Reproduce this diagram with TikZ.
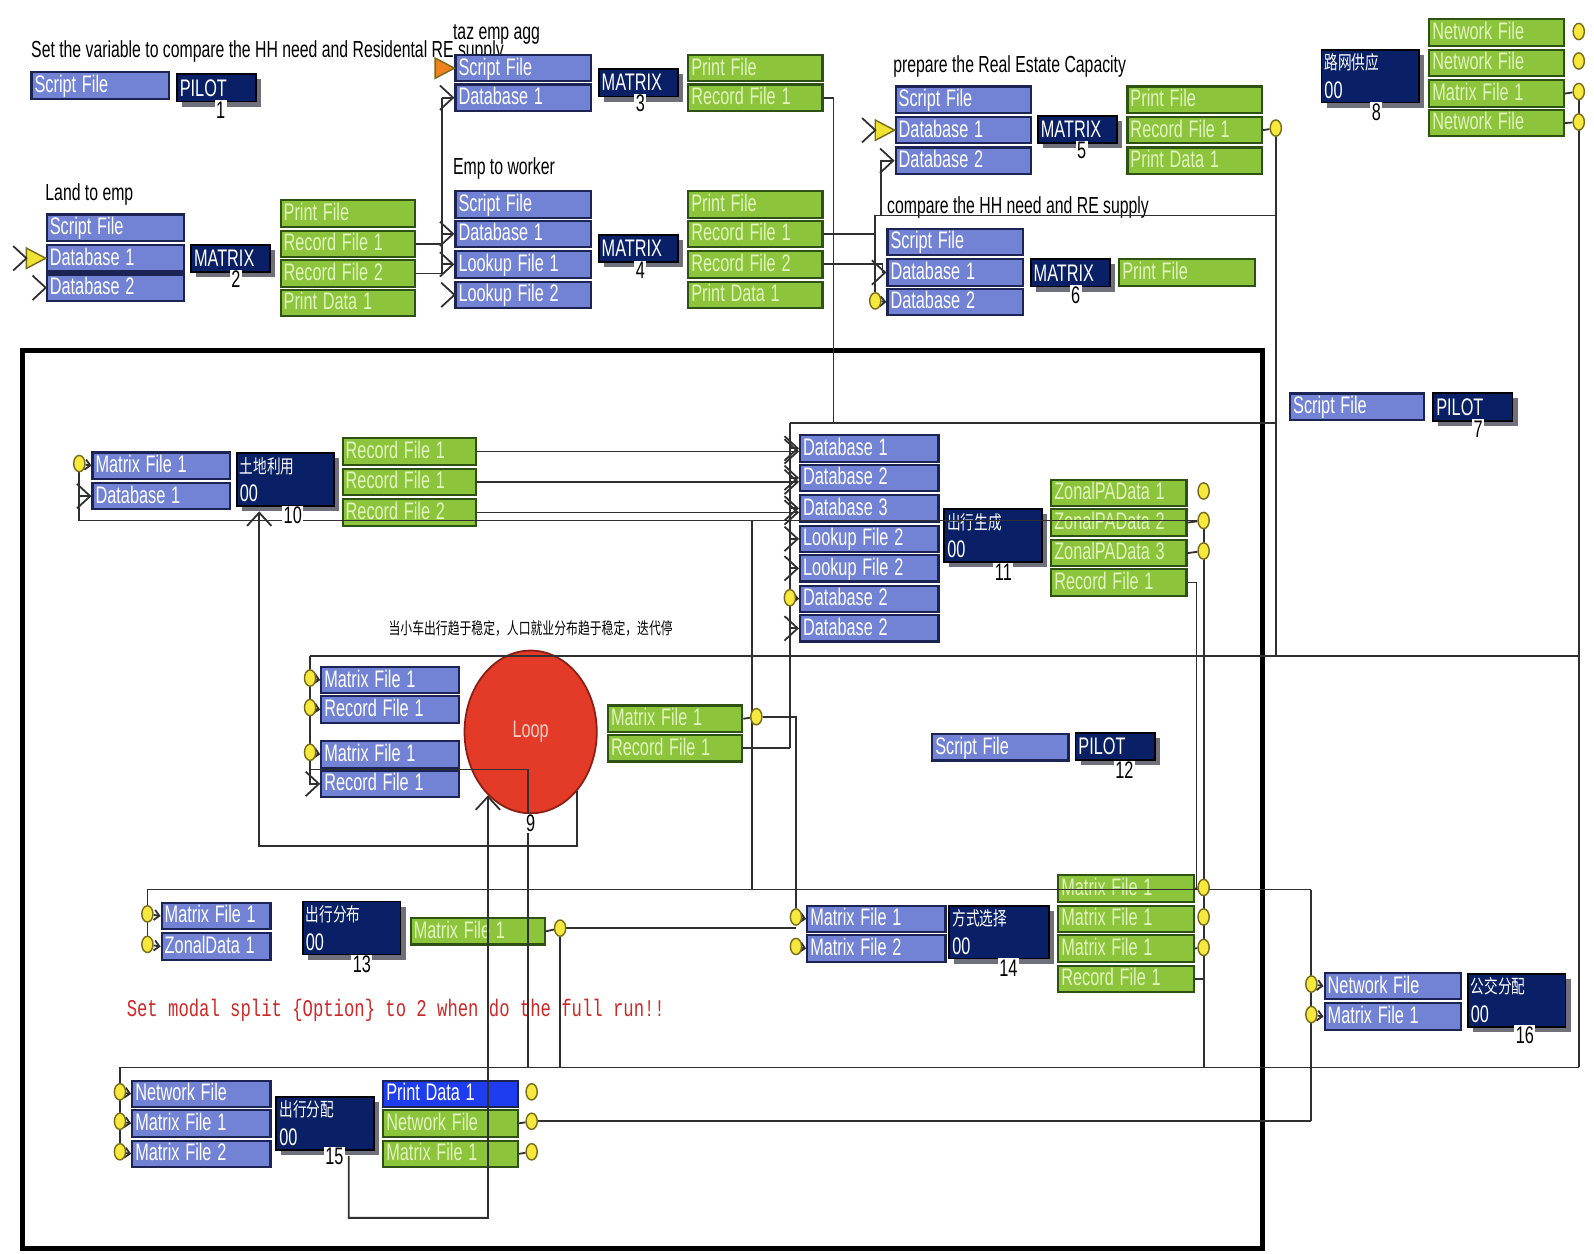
\documentclass[tikz,border=0pt]{standalone}
\usepackage{fontspec}
\setmainfont{Liberation Sans}
\newfontfamily\narrowfont[FakeStretch=0.68]{Liberation Sans}
\newfontfamily\hanzi[FakeStretch=0.72]{Noto Sans CJK SC}
\newfontfamily\typefont[FakeStretch=0.72]{Liberation Mono}
\usetikzlibrary{shapes.geometric,arrows.meta,shadows}
\pgfdeclarelayer{front}
\pgfsetlayers{main,front}

\definecolor{inblue}{RGB}{114,130,212}
\definecolor{inedge}{RGB}{28,36,84}
\definecolor{outgreen}{RGB}{140,196,60}
\definecolor{outedge}{RGB}{46,82,20}
\definecolor{outtext}{RGB}{226,244,190}
\definecolor{prognavy}{RGB}{10,32,102}
\definecolor{progshade}{RGB}{112,112,122}
\definecolor{printblue}{RGB}{30,60,240}
\definecolor{portyel}{RGB}{246,232,60}
\definecolor{portedge}{RGB}{120,108,24}
\definecolor{loopred}{RGB}{228,58,40}
\definecolor{loopedge}{RGB}{140,30,20}
\definecolor{loopink}{RGB}{244,205,200}
\definecolor{notered}{RGB}{205,40,40}
\definecolor{wiregray}{RGB}{48,48,48}
\definecolor{tipyel}{RGB}{240,226,50}
\definecolor{tiporange}{RGB}{240,130,30}

\newcommand{\boxfont}{\narrowfont\fontsize{6.7}{7}\selectfont}
\newcommand{\capfont}{\narrowfont\fontsize{6.5}{7}\selectfont}
\newcommand{\hanfont}{\hanzi\fontsize{4.6}{5.5}\selectfont}
\newcommand{\stepfont}{\hanzi\fontsize{5.3}{6}\selectfont}
\newcommand{\notefont}{\typefont\fontsize{6.7}{8}\selectfont}
\newcommand{\barbat}[1]{\draw[wire] (#1) ++(-13,-12) -- (#1) -- ++(-13,12);}
\newcommand{\tipat}[2]{\filldraw[fill=#1, draw=portedge, line width=0.4pt] (#2) ++(-19,-10) -- (#2) -- ++(-19,10) -- cycle;}

\begin{document}
\begin{tikzpicture}[x=0.01cm, y=-0.01cm,
    wire/.style={draw=wiregray, line width=0.5pt},
    feed/.style={wire, -{Straight Barb[length=0.13cm, width=0.24cm]}},
    tap/.style={wire, -{Straight Barb[length=0.05cm, width=0.1cm]}},
    cell/.style={anchor=north west, rectangle, inner xsep=0.03cm, inner ysep=0pt,
        minimum height=0.26cm, text height=0.165cm, text depth=0.03cm,
        font=\boxfont, line width=0.6pt,
        execute at begin node={\spaceskip=1.6pt\relax}},
    inbox/.style={cell, fill=inblue, draw=inedge, text=white, text width=#1},
    inbox/.default=1.29cm,
    outbox/.style={cell, fill=outgreen, draw=outedge, text=outtext, text width=#1},
    outbox/.default=1.26cm,
    prog/.style={anchor=north west, rectangle, fill=prognavy, draw=black, text=white,
        inner xsep=0.03cm, inner ysep=0pt, align=left, font=\boxfont, line width=0.5pt,
        drop shadow={shadow xshift=0.05cm, shadow yshift=-0.05cm, fill=progshade, opacity=1}},
    runbox/.style={prog, text width=0.72cm, minimum height=0.27cm},
    stepbox/.style={prog, text width=0.90cm, minimum height=0.52cm},
    num/.style={fill=white, inner sep=0.4pt, font=\boxfont, text=black},
    port/.style={ellipse, fill=portyel, draw=portedge, line width=0.4pt,
        minimum width=0.11cm, minimum height=0.16cm, inner sep=0pt},
    loopnode/.style={ellipse, fill=loopred, draw=loopedge, line width=0.5pt,
        minimum width=1.30cm, minimum height=1.60cm, inner sep=0pt, text=loopink, font=\boxfont},
    caption/.style={anchor=base west, font=\capfont, inner sep=0pt},
  ]
  \useasboundingbox (0,0) rectangle (1568,1233);

  % outer frame
  \draw[line width=1.3pt] (22,345) rectangle (1242,1228);

  % 1 PILOT
  \node[caption] (t1) at (30,57) {Set the variable to compare the HH need and Residental RE supply};
  \node[inbox] (s1) at (30,70) {Script File};
  \node[runbox] (r1) at (173,72) {PILOT};

  % 2 Land to emp
  \node[caption] (t2) at (44,197) {Land to emp};
  \node[inbox] (s2) at (45,210) {Script File};
  \node[inbox] (d21) at (45,240) {Database 1};
  \node[inbox] (d22) at (45,269) {Database 2};
  \node[runbox] (r2) at (187,240) {MATRIX};
  \node[outbox] (o21) at (275,196) {Print File};
  \node[outbox] (o22) at (275,226) {Record File 1};
  \node[outbox] (o23) at (275,255) {Record File 2};
  \node[outbox] (o24) at (275,284) {Print Data 1};

  % 3 taz emp agg
  \node[caption] (t3) at (445,39) {taz emp agg};
  \node[inbox=1.27cm] (s3) at (447,53) {Script File};
  \node[inbox=1.27cm] (d31) at (447,82) {Database 1};
  \node[runbox] (r3) at (588,67) {MATRIX};
  \node[outbox] (o31) at (676,53) {Print File};
  \node[outbox] (o32) at (676,82) {Record File 1};

  % 4 Emp to worker
  \node[caption] (t4) at (445,172) {Emp to worker};
  \node[inbox=1.27cm] (s4) at (447,187) {Script File};
  \node[inbox=1.27cm] (d41) at (447,216) {Database 1};
  \node[inbox=1.27cm] (l41) at (447,246) {Lookup File 1};
  \node[inbox=1.27cm] (l42) at (447,276) {Lookup File 2};
  \node[runbox] (r4) at (588,230) {MATRIX};
  \node[outbox] (o41) at (676,187) {Print File};
  \node[outbox] (o42) at (676,216) {Record File 1};
  \node[outbox] (o43) at (676,246) {Record File 2};
  \node[outbox] (o44) at (676,276) {Print Data 1};

  % 5 real estate capacity
  \node[caption] (t5) at (878,71) {prepare the Real Estate Capacity};
  \node[inbox=1.27cm] (s5) at (880,84) {Script File};
  \node[inbox=1.27cm] (d51) at (880,114) {Database 1};
  \node[inbox=1.27cm] (d52) at (880,144) {Database 2};
  \node[runbox] (r5) at (1020,113) {MATRIX};
  \node[outbox] (o51) at (1108,84) {Print File};
  \node[outbox] (o52) at (1108,114) {Record File 1};
  \node[outbox] (o53) at (1108,144) {Print Data 1};

  % 6 HH need vs RE supply
  \node[caption] (t6) at (872,210) {compare the HH need and RE supply};
  \node[inbox=1.27cm] (s6) at (872,224) {Script File};
  \node[inbox=1.27cm] (d61) at (872,254) {Database 1};
  \node[inbox=1.27cm] (d62) at (872,283) {Database 2};
  \node[runbox] (r6) at (1013,254) {MATRIX};
  \node[outbox=1.27cm] (o61) at (1100,254) {Print File};

  % 8 network supply
  \node[stepbox] (r8) at (1299,48) {{\stepfont 路网供应}\\[1pt]00};
  \node[outbox] (o81) at (1405,18) {Network File};
  \node[outbox] (o82) at (1405,48) {Network File};
  \node[outbox] (o83) at (1405,78) {Matrix File 1};
  \node[outbox] (o84) at (1405,107) {Network File};

  % 7 PILOT
  \node[inbox=1.26cm] (s7) at (1268,386) {Script File};
  \node[runbox] (r7) at (1409,386) {PILOT};

  % 10 land use
  \node[inbox] (d101) at (90,444) {Matrix File 1};
  \node[inbox] (d102) at (90,474) {Database 1};
  \node[stepbox] (r10) at (232,445) {{\stepfont 土地利用}\\[1pt]00};
  \node[outbox=1.25cm] (o101) at (336,430) {Record File 1};
  \node[outbox=1.25cm] (o102) at (336,460) {Record File 1};
  \node[outbox=1.25cm] (o103) at (336,490) {Record File 2};

  % 11 trip generation
  \node[inbox=1.30cm] (d111) at (786,427) {Database 1};
  \node[inbox=1.30cm] (d112) at (786,456) {Database 2};
  \node[inbox=1.30cm] (d113) at (786,486) {Database 3};
  \node[inbox=1.30cm] (d114) at (786,516) {Lookup File 2};
  \node[inbox=1.30cm] (d115) at (786,545) {Lookup File 2};
  \node[inbox=1.30cm] (d116) at (786,575) {Database 2};
  \node[inbox=1.30cm] (d117) at (786,604) {Database 2};
  \node[stepbox] (r11) at (928,500) {{\stepfont 出行生成}\\[1pt]00};
  \node[outbox=1.27cm] (o111) at (1033,471) {ZonalPAData 1};
  \node[outbox=1.27cm] (o112) at (1033,500) {ZonalPAData 2};
  \node[outbox=1.27cm] (o113) at (1033,530) {ZonalPAData 3};
  \node[outbox=1.27cm] (o114) at (1033,559) {Record File 1};

  % 9 loop
  \node[font=\hanfont] (c9) at (522,618) {当小车出行趋于稳定，人口就业分布趋于稳定，迭代停};
  \node[inbox] (d91) at (315,655) {Matrix File 1};
  \node[inbox] (d92) at (315,684) {Record File 1};
  \node[inbox] (d93) at (315,728) {Matrix File 1};
  \node[inbox] (d94) at (315,757) {Record File 1};
  \node[loopnode] (l9) at (522,720) {Loop};
  \node[outbox] (o91) at (597,693) {Matrix File 1};
  \node[outbox] (o92) at (597,722) {Record File 1};

  % 12 PILOT
  \node[inbox=1.28cm] (s12) at (916,721) {Script File};
  \node[runbox] (r12) at (1057,720) {PILOT};

  % 13 trip distribution
  \node[inbox=1.01cm] (d131) at (158,887) {Matrix File 1};
  \node[inbox=1.01cm] (d132) at (158,917) {ZonalData 1};
  \node[stepbox] (r13) at (297,886) {{\stepfont 出行分布}\\[1pt]00};
  \node[outbox] (o131) at (403,902) {Matrix File 1};

  % 14 mode choice
  \node[inbox=1.30cm] (d141) at (793,890) {Matrix File 1};
  \node[inbox=1.30cm] (d142) at (793,919) {Matrix File 2};
  \node[stepbox, text width=0.92cm] (r14) at (933,890) {{\stepfont 方式选择}\\[1pt]00};
  \node[outbox=1.27cm] (o141) at (1040,860) {Matrix File 1};
  \node[outbox=1.27cm] (o142) at (1040,890) {Matrix File 1};
  \node[outbox=1.27cm] (o143) at (1040,919) {Matrix File 1};
  \node[outbox=1.27cm] (o144) at (1040,949) {Record File 1};

  % 16 transit assignment
  \node[inbox=1.28cm] (d161) at (1302,956) {Network File};
  \node[inbox=1.28cm] (d162) at (1302,986) {Matrix File 1};
  \node[stepbox] (r16) at (1443,957) {{\stepfont 公交分配}\\[1pt]00};

  % 15 traffic assignment
  \node[inbox=1.30cm] (d151) at (129,1062) {Network File};
  \node[inbox=1.30cm] (d152) at (129,1091) {Matrix File 1};
  \node[inbox=1.30cm] (d153) at (129,1121) {Matrix File 2};
  \node[stepbox] (r15) at (271,1078) {{\stepfont 出行分配}\\[1pt]00};
  \node[cell, fill=printblue, draw=inedge, text=white, text width=1.26cm] (o151) at (376,1062) {Print Data 1};
  \node[outbox] (o152) at (376,1091) {Network File};
  \node[outbox] (o153) at (376,1121) {Matrix File 1};

  \node[anchor=base west, inner sep=0pt, font=\notefont, text=notered] (note) at (124,1000)
    {Set modal split \{Option\} to 2 when do the full run!!};

  % ports and step numbers on top
  \begin{pgfonlayer}{front}
    \node[num] (n1) at (217,108) {1};
    \node[num] (n2) at (232,275) {2};
    \node[num] (n3) at (630,102) {3};
    \node[num] (n4) at (630,266) {4};
    \node[num] (n5) at (1064,148) {5};
    \node[num] (n6) at (1058,290) {6};
    \node[num] (n7) at (1454,422) {7};
    \node[num] (n8) at (1354,110) {8};
    \node[num] (n9) at (522,810) {9};
    \node[num] (n10) at (288,507) {10};
    \node[num] (n11) at (987,563) {11};
    \node[num] (n12) at (1106,758) {12};
    \node[num] (n13) at (356,949) {13};
    \node[num] (n14) at (992,952) {14};
    \node[num] (n15) at (329,1138) {15};
    \node[num] (n16) at (1500,1018) {16};

    \node[port] (p52) at (1255,126) {};
    \node[port] (p62) at (861,296) {};
    \node[port] (p81) at (1553,31) {};
    \node[port] (p82) at (1553,60) {};
    \node[port] (p83) at (1553,90) {};
    \node[port] (p84) at (1553,120) {};
    \node[port] (p101) at (78,456) {};
    \node[port] (p111) at (1184,483) {};
    \node[port] (p112) at (1184,512) {};
    \node[port] (p113) at (1184,542) {};
    \node[port] (p116) at (777,588) {};
    \node[port] (p91) at (305,667) {};
    \node[port] (p92) at (305,696) {};
    \node[port] (p93) at (305,740) {};
    \node[port] (p9o) at (744,705) {};
    \node[port] (p131) at (145,899) {};
    \node[port] (p132) at (145,929) {};
    \node[port] (p133) at (551,913) {};
    \node[port] (p141) at (783,902) {};
    \node[port] (p142) at (783,931) {};
    \node[port] (p143) at (1184,873) {};
    \node[port] (p144) at (1184,902) {};
    \node[port] (p145) at (1184,932) {};
    \node[port] (p161) at (1290,968) {};
    \node[port] (p162) at (1290,998) {};
    \node[port] (p151) at (118,1074) {};
    \node[port] (p152) at (118,1103) {};
    \node[port] (p153) at (118,1133) {};
    \node[port] (p154) at (523,1074) {};
    \node[port] (p155) at (523,1103) {};
    \node[port] (p156) at (523,1133) {};
  \end{pgfonlayer}

  % bus points
  \coordinate (v435) at (435,0);
  \coordinate (j416) at (820,416);
  \coordinate (w416) at (777,416);
  \coordinate (h645) at (305,645);
  \coordinate (k212) at (861,212);
  \coordinate (k5) at (867,212);
  \coordinate (m740) at (740,0);
  \coordinate (m519) at (519,0);
  \coordinate (g757) at (305,757);
  \coordinate (c875) at (145,875);
  \coordinate (x1177) at (1177,0);
  \coordinate (b1050) at (118,1050);
  \coordinate (f10) at (255,832);
  \coordinate (a10) at (255,503);
  \coordinate (f15) at (343,1137);
  \coordinate (g15) at (480,1198);

  % free input marks
  \tipat{tipyel}{d21.west}
  \barbat{[xshift=-0.19cm]d21.west}
  \barbat{d22.west}
  \tipat{tiporange}{s3.west}
  \tipat{tipyel}{d51.west}
  \barbat{[xshift=-0.19cm]d51.west}
  \barbat{l42.west}

  % land to emp -> agg and worker
  \draw[wire] (o22.east) -- (o22.east -| v435);
  \draw[wire] (o23.east) -- (o23.east -| v435);
  \draw[wire] (d31.west -| v435) -- (o23.east -| v435);
  \draw[feed] (d31.west -| v435) -- (d31.west);
  \draw[feed] (d41.west -| v435) -- (d41.west);
  \draw[feed] (l41.west -| v435) -- (l41.west);

  % agg and capacity -> generation
  \draw[wire] (o32.east) -| (j416);
  \draw[wire] (w416) -- (w416 -| p52);
  \draw[wire] (o52.east) -- (p52);
  \draw[wire] (p52.south) -- (p52 |- h645);
  \draw[wire] (k212 -| p52) -- (k212) -- (p62.north);
  \draw[tap] (p62) -- (d62.west);
  \draw[wire] (o42.east) -- (o42.east -| k212);
  \draw[feed] (o43.east) -- ++(58,0) |- (d61.west);
  \draw[feed] (k5) |- (d52.west);

  % network supply
  \draw[wire] (o83.east) -- (p83);
  \draw[wire] (o84.east) -- (p84);
  \draw[wire] (p83.south) -- (p83 |- b1050);
  \draw[wire] (h645) -- (h645 -| p84);

  % land use -> generation
  \draw[feed] (o101.east) -- (o101.east -| d111.west);
  \draw[feed] (o102.east) -- (o102.east -| d112.west);
  \draw[feed] (o103.east) -- (o103.east -| d113.west);
  \draw[wire] (o112.east) -- (p112);
  \draw[wire] (p112.west) -- (p112.west -| p101) -- (p101.south);
  \draw[tap] (p101) -- (d101.west);
  \draw[feed] (p101 |- d102.west) -- (d102.west);
  \draw[wire] (p112.west -| m740) -- (m740 |- c875);

  % inputs of generation
  \draw[wire] (w416) -- (w416 |- o92.east);
  \draw[wire] (o92.east) -- (o92.east -| w416);
  \draw[feed] (d111.west -| w416) -- (d111.west);
  \draw[feed] (d112.west -| w416) -- (d112.west);
  \draw[feed] (d113.west -| w416) -- (d113.west);
  \draw[feed] (d114.west -| w416) -- (d114.west);
  \draw[feed] (d115.west -| w416) -- (d115.west);
  \draw[tap] (p116) -- (d116.west);
  \draw[feed] (d117.west -| w416) -- (d117.west);

  % loop
  \draw[feed] (h645) |- (d94.west);
  \draw[tap] (p91) -- (d91.west);
  \draw[tap] (p92) -- (d92.west);
  \draw[tap] (p93) -- (d93.west);
  \draw[wire] (g757) -- (g757 -| m519) -- (m519 |- b1050);
  \draw[wire] (o91.east) -- (p9o);
  \draw[wire] (p9o) -| (p141.north);
  \draw[feed] (l9.-52) |- (f10) -- (a10);
  \draw[feed] (f15) |- (g15) -- (l9.-124);

  % distribution and mode choice
  \draw[wire] (c875) -- (c875 -| p161);
  \draw[wire] (c875) -- (p132);
  \draw[tap] (p131) -- (d131.west);
  \draw[tap] (p132) -- (d132.west);
  \draw[wire] (o131.east) -- (p133);
  \draw[wire] (p133) -- (p133 -| p141);
  \draw[wire] (p133.south) -- (p133 |- b1050);
  \draw[tap] (p141) -- (d141.west);
  \draw[tap] (p142) -- (d142.west);
  \draw[wire] (o141.east) -- (p143);
  \draw[wire] (o143.east) -- (p145);
  \draw[wire] (o144.east) -- (o144.east -| p145);
  \draw[wire] (o114.east) -- (o114.east -| x1177) -- (x1177 |- c875);
  \draw[wire] (o113.east) -- (p113);
  \draw[wire] (p112.south) -- (p112 |- b1050);

  % assignment
  \draw[wire] (b1050) -- (b1050 -| p83);
  \draw[wire] (b1050) -- (p153);
  \draw[tap] (p151) -- (d151.west);
  \draw[tap] (p152) -- (d152.west);
  \draw[tap] (p153) -- (d153.west);
  \draw[wire] (o152.east) -- (p155);
  \draw[wire] (o153.east) -- (p156);
  \draw[wire] (p155) -- (p155 -| p161);
  \draw[wire] (c875 -| p161) -- (p161 |- p155);
  \draw[tap] (p161) -- (d161.west);
  \draw[tap] (p162) -- (d162.west);
\end{tikzpicture}
\end{document}
